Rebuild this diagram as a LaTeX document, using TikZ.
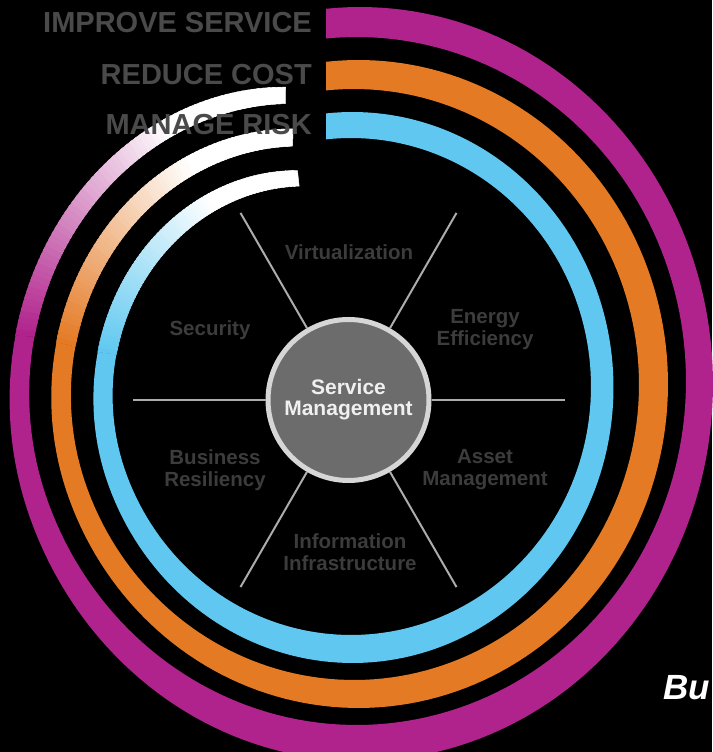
\documentclass[tikz,border=0pt]{standalone}
\usepackage{fontspec}
\setmainfont{Liberation Sans}
\usepackage{tikz}
\usetikzlibrary{positioning}

\definecolor{svcmagenta}{RGB}{176,34,140}
\definecolor{costorange}{RGB}{228,122,36}
\definecolor{riskcyan}{RGB}{96,200,240}
\definecolor{headgray}{RGB}{74,74,74}
\definecolor{labelgray}{RGB}{60,60,60}
\definecolor{spokegray}{RGB}{172,172,172}
\definecolor{hubfill}{RGB}{108,108,108}
\definecolor{hubrim}{RGB}{214,214,214}

\tikzset{
  declare function={ko(\x)=1-0.185*(max(0,-160-\x)/95)^2; ki(\x)=1-0.165*(max(0,-160-\x)/95)^2;},
  headline/.style={anchor=base east, inner sep=0pt, text=headgray, font=\fontsize{29}{29}\selectfont\bfseries},
  area/.style={align=center, inner sep=0pt, text=labelgray, font=\fontsize{20.5}{22}\selectfont\bfseries},
  hub/.style={circle, draw=hubrim, line width=5pt, fill=hubfill, minimum size=161pt, inner sep=0pt, align=center, text=white!94!black, font=\fontsize{21}{21}\selectfont\bfseries},
  spoke/.style={draw=spokegray, line width=2pt},
  fadeseg/.style={line width=0.5pt}
}

% ring: #1 colour, #2-#5 outer edge (cx, cy from top, a, b), #6-#9 inner edge
\newcommand{\drawring}[9]{%
  \pgfmathsetmacro{\tso}{acos((326-#2)/#4)}
  \pgfmathsetmacro{\tsi}{acos((326-#6)/#8)}
  \fill[#1] plot[domain=\tso:-187.5, samples=160] ({#2+#4*ko(\x)*cos(\x)}, {752-#3+#5*ko(\x)*sin(\x)})
     -- plot[domain=-187.5:\tsi, samples=160] ({#6+#8*ki(\x)*cos(\x)}, {752-#7+#9*ki(\x)*sin(\x)}) -- cycle;
  \foreach \ang in {-188,-189,...,-254}{
    \pgfmathsetmacro{\anga}{\ang+0.5}
    \pgfmathsetmacro{\angb}{\ang-1}
    \pgfmathtruncatemacro{\pct}{max(0,min(100,100*(\ang+232)/44))}
    \filldraw[fadeseg, #1!\pct!white]
      ({#2+#4*ko(\anga)*cos(\anga)}, {752-#3+#5*ko(\anga)*sin(\anga)})
      -- ({#2+#4*ko(\angb)*cos(\angb)}, {752-#3+#5*ko(\angb)*sin(\angb)})
      -- ({#6+#8*ki(\angb)*cos(\angb)}, {752-#7+#9*ki(\angb)*sin(\angb)})
      -- ({#6+#8*ki(\anga)*cos(\anga)}, {752-#7+#9*ki(\anga)*sin(\anga)}) -- cycle;
  }
}

\begin{document}
\begin{tikzpicture}[x=1pt, y=1pt]

\useasboundingbox (0,0) rectangle (712,752);
\fill[black] (0,0) rectangle (712,752);

\drawring{svcmagenta}{360}{384}{353}{377}{356.5}{381}{329.5}{344}
\drawring{costorange}{358.5}{384}{309.5}{324}{354}{384.5}{285}{295.5}
\drawring{riskcyan}{352.5}{387.5}{261}{275.5}{351}{386.5}{240}{248.5}

\node at (348.5,352) [hub] (hub) {Service\\Management};

\foreach \ang in {0,60,...,300}{
  \path (hub.center) ++(\ang:216) coordinate (end\ang);
  \draw[spoke] (hub.\ang) -- (end\ang);
}

\node at (349,500) [area] (virt) {Virtualization};
\node at (485,422) [area] (energy) {Energy\\Efficiency};
\node at (210,422) [area] (security) {Security};
\node at (215,282) [area] (resil) {Business\\Resiliency};
\node at (485,282) [area] (asset) {Asset\\Management};
\node at (350,200) [area] (info) {Information\\Infrastructure};

\node at (312,719) [headline] (service) {IMPROVE SERVICE};
\node at (312,667) [headline] (cost) {REDUCE COST};
\node at (312,617) [headline] (risk) {MANAGE RISK};

\node at (663,52) [anchor=base west, inner sep=0pt, text=white, font=\fontsize{35}{35}\selectfont\bfseries\itshape] (bu) {Bu};

\end{tikzpicture}
\end{document}
